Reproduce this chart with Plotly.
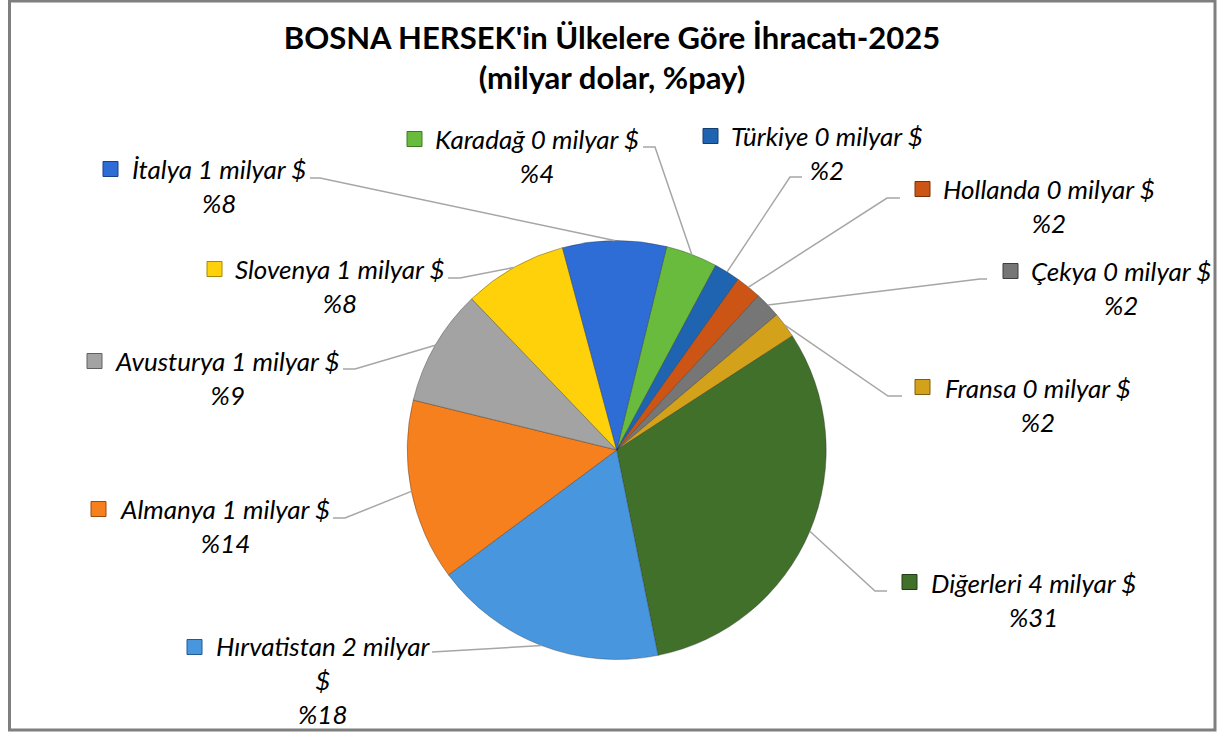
import math
import plotly.graph_objects as go

W, H = 1219, 733

# data (clockwise from the top of the pie)
countries = ["Karadağ", "Türkiye", "Hollanda", "Çekya", "Fransa", "Diğerleri",
             "Hırvatistan", "Almanya", "Avusturya", "Slovenya", "İtalya"]
shares = [4, 2, 2, 2, 2, 31, 18, 14, 9, 8, 8]      # %pay
billions = [0, 0, 0, 0, 0, 4, 2, 1, 1, 1, 1]       # milyar $
colors = ["#68BB3C", "#1F64B0", "#CC5414", "#767676", "#D4A11A", "#41702A",
          "#4896DE", "#F67F1E", "#A3A3A3", "#FFD10A", "#2F6DD6"]
key_edge = ["#3F7A22", "#123E70", "#7A300A", "#3F3F3F", "#7D5E0C", "#223D15",
            "#225A92", "#9E4A0B", "#606060", "#A88800", "#17428A"]
wrapped = ["Hırvatistan"]

# label placement, pixels from top-left of the page
lab_x = [537, 827, 1049, 1121, 1038, 1033, 323, 225, 227, 340, 219]
lab_y = [156, 153, 206, 288, 405, 600, 680, 526, 378, 286, 186]
key_x = [407, 703, 915, 1003, 915, 902, 187, 91, 87, 207, 103]
key_y = [139, 136, 189, 271, 387, 582, 647, 509, 361, 269, 169]
line_x = [643, 802, 900, 987, 902, 887, 432, 333, 343, 448, 310]
line_y = [147, 177, 198, 279, 396, 591, 652, 518, 369, 278, 178]
elbow_x = [655, 790, 887, 980, 888, 875, 432, 345, 355, 460, 320]

cx, cy, r = 616.7, 450, 209.5
rot = 13.8


def px(x):
    return x / W


def py(y):
    return 1 - y / H


fig = go.Figure(go.Pie(
    labels=countries,
    values=shares,
    sort=False,
    direction="clockwise",
    rotation=rot,
    textinfo="none",
    hoverinfo="label+percent",
    marker=dict(colors=colors, line=dict(color="rgba(40,40,40,0.35)", width=1)),
    domain=dict(x=[px(cx - r), px(cx + r)], y=[py(cy + r), py(cy - r)]),
    showlegend=False,
))

shapes = []
annotations = []
total = sum(shares)
cum = 0
for i, c in enumerate(countries):
    mid = math.radians(rot + 360 * (cum + shares[i] / 2) / total)
    cum += shares[i]
    ex, ey = cx + r * math.sin(mid), cy - r * math.cos(mid)
    shapes.append(dict(
        type="path", xref="paper", yref="paper",
        path=f"M {px(line_x[i])},{py(line_y[i])} L {px(elbow_x[i])},{py(line_y[i])} L {px(ex)},{py(ey)}",
        line=dict(color="#A6A6A6", width=1.5),
    ))
    shapes.append(dict(
        type="rect", xref="paper", yref="paper",
        x0=px(key_x[i]), x1=px(key_x[i] + 15), y0=py(key_y[i] + 7.5), y1=py(key_y[i] - 7.5),
        fillcolor=colors[i], line=dict(color=key_edge[i], width=1),
    ))
    sep = "<br>" if c in wrapped else " "
    annotations.append(dict(
        x=px(lab_x[i]), y=py(lab_y[i]), xref="paper", yref="paper",
        xanchor="center", yanchor="middle", showarrow=False, align="center",
        text=f"{c} {billions[i]} milyar{sep}$<br>%{shares[i]}",
        font=dict(family="Lato", size=26, style="italic", color="#000000"),
    ))

# chart border
shapes.append(dict(type="rect", xref="paper", yref="paper",
                   x0=px(9.5), x1=px(1215), y0=py(730), y1=py(1),
                   line=dict(color="#7F7F7F", width=3)))

fig.update_layout(
    width=W, height=H,
    margin=dict(l=0, r=0, t=0, b=0),
    paper_bgcolor="white",
    title=dict(
        text="BOSNA HERSEK'in Ülkelere Göre İhracatı-2025<br>(milyar dolar, %pay)",
        x=px(612), y=py(48.5), xanchor="center", yanchor="middle",
        font=dict(family="Lato", size=31, weight="bold", color="#000000"),
    ),
    shapes=shapes,
    annotations=annotations,
)

fig.write_html("out.html", config={"displayModeBar": False},
               post_script="document.body.style.margin='0';")
